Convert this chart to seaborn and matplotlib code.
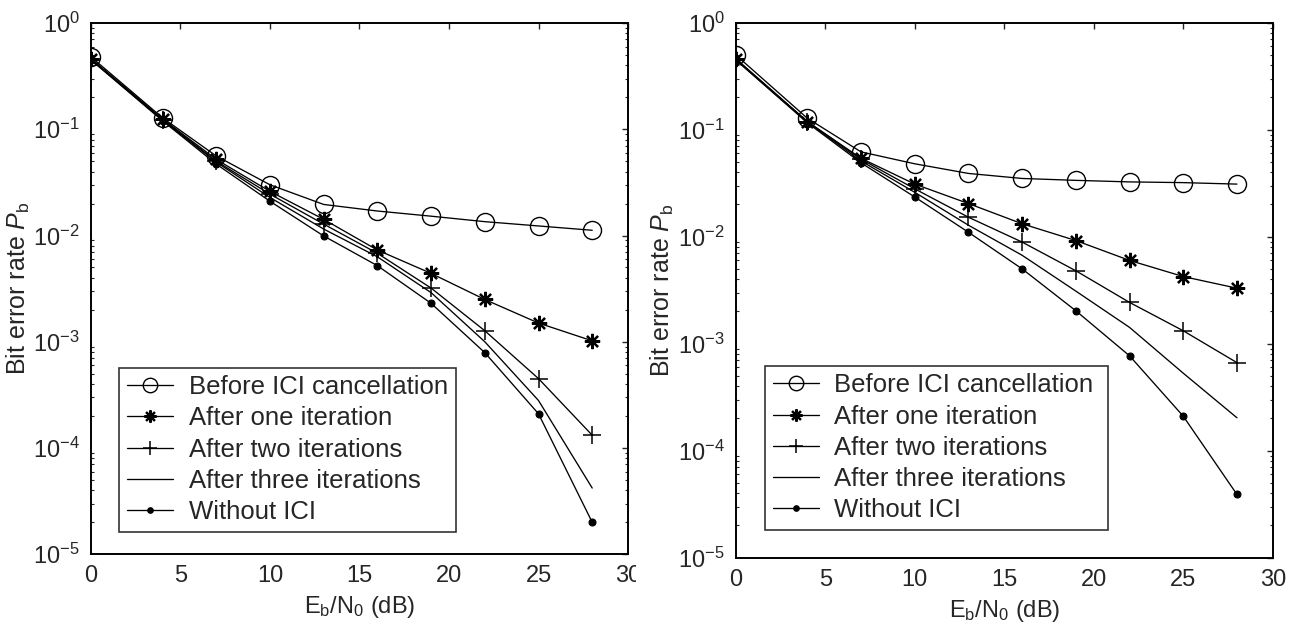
import numpy as np
import pandas as pd
import matplotlib
matplotlib.use("Agg")
import matplotlib.pyplot as plt
import seaborn as sns
from matplotlib.patches import Rectangle
from matplotlib.ticker import LogLocator, LogFormatterMathtext, MultipleLocator, NullFormatter

# Eb/N0 sample points (dB)
ebn0 = [0, 4, 7, 10, 13, 16, 19, 22, 25, 28]

series_names = [
    "Before ICI cancellation",
    "After one iteration",
    "After two iterations",
    "After three iterations",
    "Without ICI",
]

# Left panel BER curves
left_before = [0.48, 0.128, 0.056, 0.030, 0.0196, 0.017, 0.0152, 0.0135, 0.0123, 0.0112]
left_one = [0.46, 0.125, 0.052, 0.026, 0.0142, 0.0073, 0.0044, 0.0025, 0.0015, 0.00102]
left_two = [0.46, 0.123, 0.050, 0.0245, 0.0128, 0.0068, 0.0032, 0.00127, 0.00045, 0.000132]
left_three = [0.45, 0.122, 0.049, 0.0228, 0.0115, 0.0063, 0.0029, 0.00100, 0.00028, 0.000042]
left_without = [0.45, 0.120, 0.047, 0.021, 0.0099, 0.0052, 0.0023, 0.00079, 0.00021, 0.000020]

# Right panel BER curves
right_before = [0.50, 0.128, 0.062, 0.048, 0.039, 0.035, 0.0336, 0.0325, 0.032, 0.031]
right_one = [0.46, 0.119, 0.054, 0.031, 0.0204, 0.0132, 0.0092, 0.0060, 0.00424, 0.0033]
right_two = [0.46, 0.119, 0.053, 0.028, 0.0152, 0.0089, 0.0048, 0.00243, 0.00132, 0.000665]
right_three = [0.45, 0.118, 0.051, 0.026, 0.0128, 0.0067, 0.0031, 0.00142, 0.00053, 0.000203]
right_without = [0.45, 0.116, 0.049, 0.0235, 0.0110, 0.0050, 0.00203, 0.00077, 0.00021, 0.000039]

styles = {
    "Before ICI cancellation": dict(marker="o", markersize=13, markerfacecolor="none",
                                    markeredgewidth=1.0),
    "After one iteration": dict(marker=(8, 2, 0), markersize=11, markeredgewidth=1.6),
    "After two iterations": dict(marker="+", markersize=13, markeredgewidth=1.1),
    "After three iterations": dict(marker=None),
    "Without ICI": dict(marker="o", markersize=5, markerfacecolor="black",
                        markeredgewidth=0.8),
}

sns.set_style("white")
plt.rcParams["font.family"] = ["Liberation Sans", "DejaVu Sans"]
plt.rcParams["mathtext.fontset"] = "custom"
plt.rcParams["mathtext.rm"] = "Liberation Sans"
plt.rcParams["mathtext.it"] = "Liberation Sans:italic"

fig = plt.figure(figsize=(13.07, 6.30), dpi=100)
ax_left = fig.add_axes([0.0696, 0.1202, 0.4109, 0.8433])
ax_right = fig.add_axes([0.5629, 0.1148, 0.4109, 0.8492])

panels = [
    (ax_left, [left_before, left_one, left_two, left_three, left_without],
     (0.0527, 0.0425, 0.627, 0.3044)),
    (ax_right, [right_before, right_one, right_two, right_three, right_without],
     (0.0546, 0.0518, 0.639, 0.310)),
]

for ax, curves, legend_box in panels:
    for name, vals in zip(series_names, curves):
        df = pd.DataFrame({"ebn0": ebn0, "ber": vals})
        sns.lineplot(data=df, x="ebn0", y="ber", ax=ax, color="black", linewidth=0.95,
                     label=name, markeredgecolor="black", **styles[name])
    ax.set_yscale("log")
    ax.set_xlim(0, 30)
    ax.set_ylim(1e-5, 1)
    ax.xaxis.set_major_locator(MultipleLocator(5))
    ax.yaxis.set_major_locator(LogLocator(base=10, numticks=10))
    ax.yaxis.set_major_formatter(LogFormatterMathtext())
    ax.yaxis.set_minor_locator(LogLocator(base=10, subs=np.arange(2, 10), numticks=20))
    ax.yaxis.set_minor_formatter(NullFormatter())
    ax.tick_params(which="major", direction="in", length=4, width=1.0,
                   top=True, right=True, labelsize=17, pad=8)
    ax.tick_params(which="minor", direction="in", length=2.5, width=0.8,
                   left=True, right=True)
    for spine in ax.spines.values():
        spine.set_visible(True)
        spine.set_color("black")
        spine.set_linewidth(1.4)
    ax.set_xlabel("E$_\\mathrm{b}$/N$_\\mathrm{0}$ (dB)", fontsize=17, labelpad=5)
    ax.set_ylabel("Bit error rate $P_\\mathrm{b}$", fontsize=18, labelpad=1)
    leg = ax.legend(loc="lower left", bbox_to_anchor=legend_box, mode="expand",
                    fontsize=18.5, frameon=True, fancybox=False, edgecolor="black",
                    handlelength=1.8, handletextpad=0.6, borderpad=0.3,
                    labelspacing=0.28, borderaxespad=0, markerscale=0.8)
    leg.get_frame().set_linewidth(1.2)

# the left panel ends just past its last tick label
fig.add_artist(Rectangle((636 / 1307, 0), 38 / 1307, 0.11, transform=fig.transFigure,
                         facecolor="white", edgecolor="none", zorder=10))

fig.savefig("out.png", dpi=100, facecolor="white")
